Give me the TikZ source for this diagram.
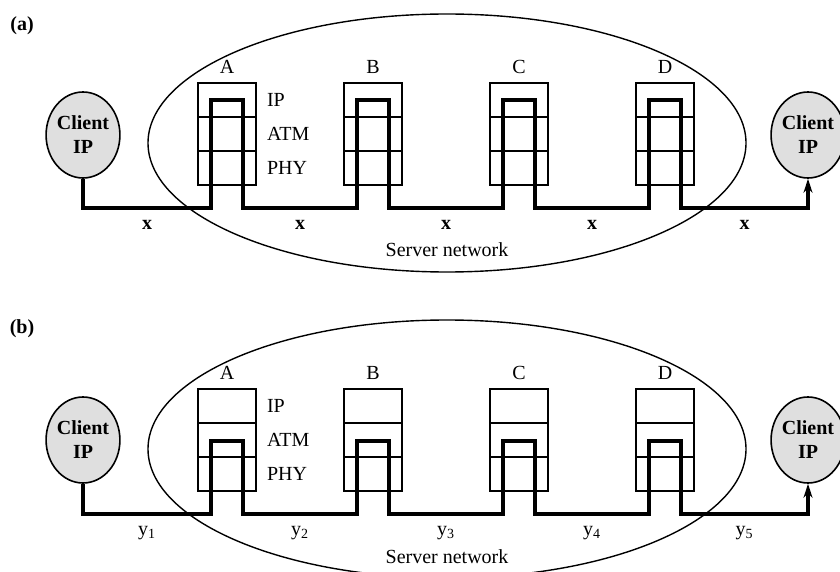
\documentclass[tikz,border=0pt]{standalone}
\usepackage{fontspec}
\setmainfont{Liberation Serif}
\usetikzlibrary{positioning,shapes.geometric,arrows.meta}

\tikzset{
  layer/.style={draw, line width=0.6pt, minimum width=29pt, minimum height=17pt, inner sep=0pt, outer sep=0pt},
  client/.style={draw, ellipse, line width=0.8pt, fill=gray!25, minimum width=34pt, minimum height=43pt, inner sep=0pt, align=center, font=\bfseries},
  network/.style={draw, ellipse, line width=0.7pt, minimum width=299pt, minimum height=129pt, inner sep=0pt},
  conn/.style={line width=1.6pt, line join=miter, -{Stealth[length=7pt,width=4.5pt]}},
  lbl/.style={below=2pt},
}

\begin{document}
\begin{tikzpicture}[x=0.5pt, y=-0.5pt]
\useasboundingbox (0,0) rectangle (840,572);

%% Panel (a)
\node[font=\bfseries] (atag) at (22,26) {(a)};
\node[network] (anet) at (447,143) {};
\node (anetname) at (447,250) {Server network};
\node[client] (acl) at (83,135) {Client\\IP};
\node[client] (acr) at (808,135) {Client\\IP};

%% Protocol stacks, switched at the IP layer
\foreach \s/\x in {A/227,B/373,C/519,D/665}{
  \node[layer] (a\s-ip) at (\x,100) {};
  \node[layer, below=0pt of a\s-ip] (a\s-atm) {};
  \node[layer, below=0pt of a\s-atm] (a\s-phy) {};
  \node[above=1pt of a\s-ip] (a\s-name) {\s};
  \coordinate (a\s-bl) at (\x-16,208);
  \coordinate (a\s-tl) at (\x-16,100);
  \coordinate (a\s-tr) at (\x+16,100);
  \coordinate (a\s-br) at (\x+16,208);
}
\node[right=2pt of aA-ip] (aip) {IP};
\node[right=2pt of aA-atm] (aatm) {ATM};
\node[right=2pt of aA-phy] (aphy) {PHY};

%% Path of the IP packets
\draw[conn] (acl.south) |- node[lbl,pos=0.75,font=\bfseries] (ax1) {x} (aA-bl)
  -- (aA-tl) -- (aA-tr) -- (aA-br) -- node[lbl,font=\bfseries] (ax2) {x} (aB-bl)
  -- (aB-tl) -- (aB-tr) -- (aB-br) -- node[lbl,font=\bfseries] (ax3) {x} (aC-bl)
  -- (aC-tl) -- (aC-tr) -- (aC-br) -- node[lbl,font=\bfseries] (ax4) {x} (aD-bl)
  -- (aD-tl) -- (aD-tr) -- (aD-br) -| node[lbl,pos=0.25,font=\bfseries] (ax5) {x} (acr.south);

%% Panel (b)
\node[font=\bfseries] (btag) at (22,329) {(b)};
\node[network] (bnet) at (447,449) {};
\node (bnetname) at (447,557) {Server network};
\node[client] (bcl) at (83,440) {Client\\IP};
\node[client] (bcr) at (808,440) {Client\\IP};

%% Protocol stacks, switched at the ATM layer
\foreach \s/\x in {A/227,B/373,C/519,D/665}{
  \node[layer] (b\s-ip) at (\x,406) {};
  \node[layer, below=0pt of b\s-ip] (b\s-atm) {};
  \node[layer, below=0pt of b\s-atm] (b\s-phy) {};
  \node[above=1pt of b\s-ip] (b\s-name) {\s};
  \coordinate (b\s-bl) at (\x-16,514);
  \coordinate (b\s-tl) at (\x-16,441);
  \coordinate (b\s-tr) at (\x+16,441);
  \coordinate (b\s-br) at (\x+16,514);
}
\node[right=2pt of bA-ip] (bip) {IP};
\node[right=2pt of bA-atm] (batm) {ATM};
\node[right=2pt of bA-phy] (bphy) {PHY};

%% Path of the ATM cells
\draw[conn] (bcl.south) |- node[lbl,pos=0.75] (by1) {y\textsubscript{1}} (bA-bl)
  -- (bA-tl) -- (bA-tr) -- (bA-br) -- node[lbl] (by2) {y\textsubscript{2}} (bB-bl)
  -- (bB-tl) -- (bB-tr) -- (bB-br) -- node[lbl] (by3) {y\textsubscript{3}} (bC-bl)
  -- (bC-tl) -- (bC-tr) -- (bC-br) -- node[lbl] (by4) {y\textsubscript{4}} (bD-bl)
  -- (bD-tl) -- (bD-tr) -- (bD-br) -| node[lbl,pos=0.25] (by5) {y\textsubscript{5}} (bcr.south);
\end{tikzpicture}
\end{document}
